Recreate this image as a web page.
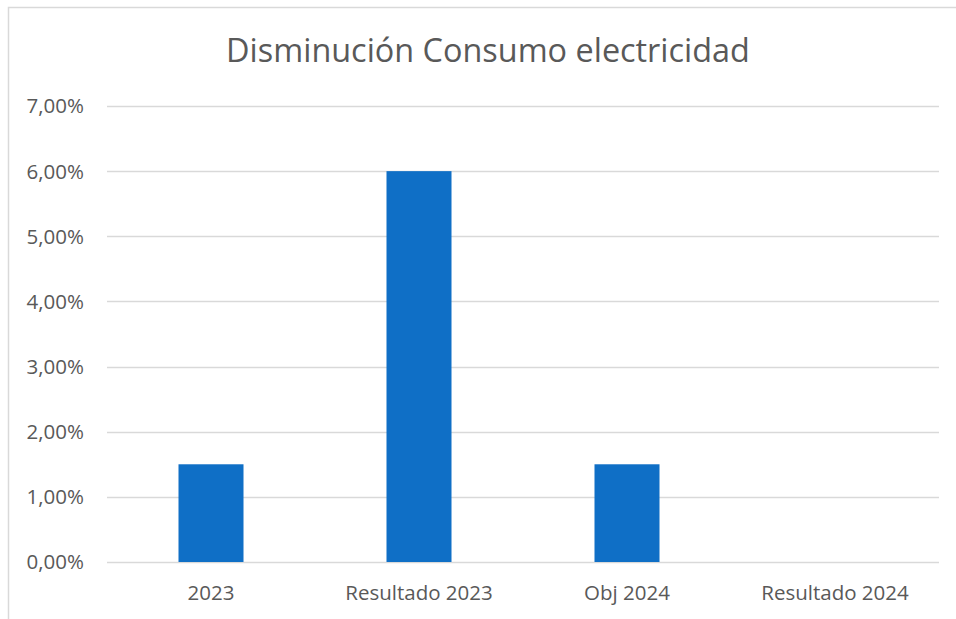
<!DOCTYPE html>
<html>
<head>
<meta charset="utf-8">
<script src="https://cdn.jsdelivr.net/npm/d3@7"></script>
<style>
  body { margin: 0; background: #fff; }
  text { font-family: "Open Sans", sans-serif; fill: #595959; }
</style>
</head>
<body>
<div id="chart"></div>
<script>
// chart data
var categories = ["2023", "Resultado 2023", "Obj 2024", "Resultado 2024"];
var values = [0.015, 0.06, 0.015, 0];
var yTicks = [0, 0.01, 0.02, 0.03, 0.04, 0.05, 0.06, 0.07];
var title = "Disminución Consumo electricidad";

var width = 956;
var height = 619;
var pLeft = 107, pRight = 939, pTop = 106, pBottom = 562;

var svg = d3
  .select("#chart")
  .append("svg")
  .attr("width", width)
  .attr("height", height);

// chart area border (continues past the window on right / bottom)
svg
  .append("rect")
  .attr("x", 8.5)
  .attr("y", 7.5)
  .attr("width", 1000)
  .attr("height", 700)
  .attr("fill", "#fff")
  .attr("stroke", "#d9d9d9")
  .attr("stroke-width", 1.5);

var xScale = d3
  .scaleBand()
  .domain(categories)
  .range([pLeft, pRight])
  .paddingInner(0.6875)
  .paddingOuter(0.34375);

var yScale = d3
  .scaleLinear()
  .domain([0, 0.07])
  .range([pBottom, pTop]);

var fmt = function(v) {
  return (v * 100).toFixed(2).replace(".", ",") + "%";
};

// gridlines
svg
  .append("g")
  .selectAll("line")
  .data(yTicks)
  .enter()
  .append("line")
  .attr("x1", pLeft)
  .attr("x2", pRight)
  .attr("y1", function(d) { return Math.round(yScale(d)) + 0.5; })
  .attr("y2", function(d) { return Math.round(yScale(d)) + 0.5; })
  .attr("stroke", "#d9d9d9")
  .attr("stroke-width", 1.3);

// y labels
svg
  .append("g")
  .selectAll("text")
  .data(yTicks)
  .enter()
  .append("text")
  .attr("x", 84)
  .attr("y", function(d) { return yScale(d); })
  .attr("dy", "0.36em")
  .attr("text-anchor", "end")
  .attr("font-size", 20.5)
  .text(fmt);

// bars
svg
  .append("g")
  .selectAll("rect")
  .data(values)
  .enter()
  .append("rect")
  .attr("x", function(d, i) { return xScale(categories[i]); })
  .attr("width", xScale.bandwidth())
  .attr("y", function(d) { return yScale(d); })
  .attr("height", function(d) { return yScale(0) - yScale(d); })
  .attr("fill", "#0f6fc6");

// x labels
svg
  .append("g")
  .selectAll("text")
  .data(categories)
  .enter()
  .append("text")
  .attr("x", function(d) { return xScale(d) + xScale.bandwidth() / 2; })
  .attr("y", 600)
  .attr("text-anchor", "middle")
  .attr("font-size", 20.5)
  .text(function(d) { return d; });

// title
svg
  .append("text")
  .attr("x", 488)
  .attr("y", 62)
  .attr("text-anchor", "middle")
  .attr("font-size", 32.4)
  .text(title);
</script>
</body>
</html>
